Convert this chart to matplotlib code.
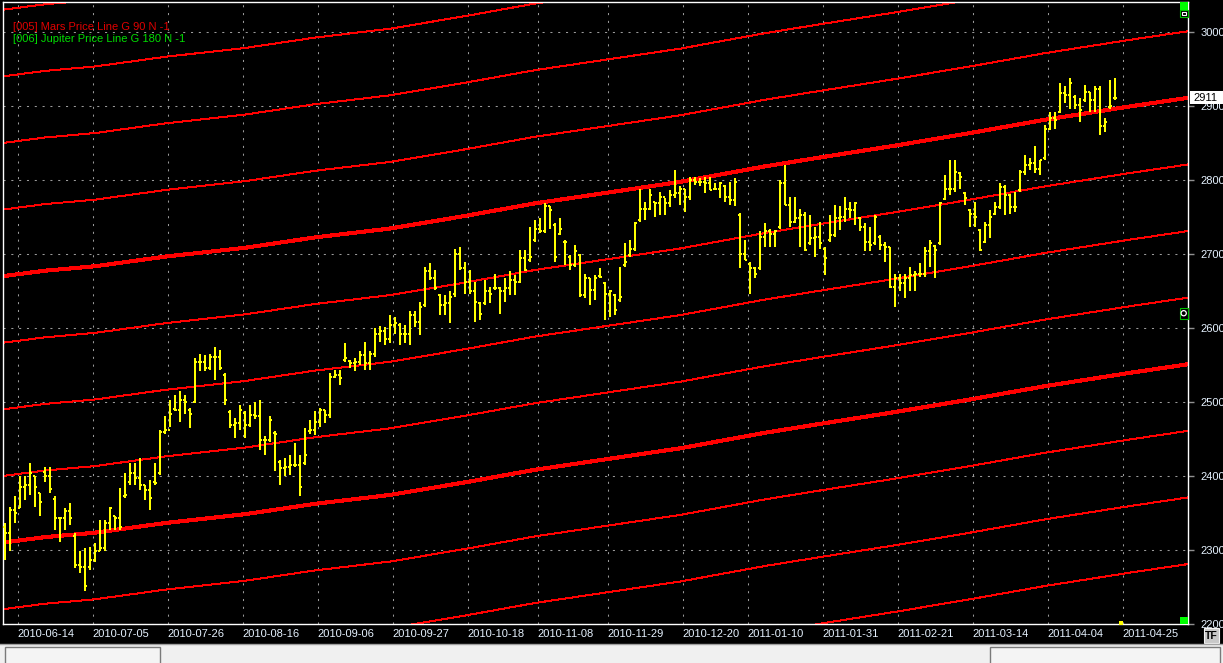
"""
Daily price bars with Mars / Jupiter price lines, black trading-terminal style
"""

import numpy as np
import matplotlib.pyplot as plt
from matplotlib.patches import Rectangle, Circle

plt.rcParams['font.family'] = ['Liberation Sans', 'DejaVu Sans']

# Daily bars, left to right (one bar per trading day)
opens = [
    2330, 2322, 2354, 2356, 2385, 2388, 2399, 2377, 2405, 2399,
    2368, 2343, 2343, 2352, 2318, 2280, 2277, 2276, 2286, 2298,
    2302, 2336, 2345, 2343, 2372, 2392, 2403, 2397, 2388, 2381,
    2392, 2403, 2459, 2462, 2490, 2489, 2502, 2489, 2500, 2554,
    2554, 2545, 2561, 2561, 2536, 2486, 2469, 2471, 2485, 2469,
    2482, 2480, 2448, 2448, 2458, 2419, 2410, 2412, 2415, 2415,
    2417, 2460, 2462, 2473, 2489, 2482, 2533, 2536, 2556, 2555,
    2552, 2554, 2563, 2552, 2565, 2592, 2595, 2585, 2604, 2604,
    2592, 2592, 2617, 2608, 2630, 2676, 2667, 2644, 2631, 2633,
    2645, 2700, 2680, 2662, 2649, 2633, 2633, 2649, 2653, 2653,
    2649, 2653, 2664, 2662, 2694, 2691, 2718, 2734, 2730, 2764,
    2739, 2727, 2716, 2696, 2685, 2698, 2644, 2667, 2651, 2670,
    2660, 2646, 2644, 2637, 2685, 2698, 2707, 2745, 2761, 2761,
    2770, 2768, 2777, 2768, 2779, 2782, 2788, 2777, 2800, 2797,
    2797, 2795, 2788, 2788, 2792, 2777, 2773, 2752, 2700, 2686,
    2680, 2680, 2723, 2730, 2727, 2736, 2795, 2766, 2743, 2748,
    2752, 2714, 2721, 2723, 2706, 2718, 2725, 2748, 2750, 2761,
    2759, 2748, 2736, 2716, 2715, 2722, 2712, 2709, 2655, 2667,
    2660, 2667, 2671, 2673, 2673, 2703, 2710, 2714, 2774, 2788,
    2788, 2809, 2782, 2759, 2754, 2732, 2716, 2739, 2754, 2763,
    2790, 2779, 2763, 2786, 2811, 2820, 2822, 2815, 2829, 2869,
    2883, 2892, 2917, 2914, 2912, 2901, 2907, 2919, 2908, 2923,
    2872, 2898, 2910,
]
highs = [
    2336, 2358, 2372, 2399, 2399, 2417, 2399, 2377, 2412, 2412,
    2372, 2343, 2356, 2363, 2322, 2298, 2302, 2304, 2309, 2340,
    2340, 2358, 2345, 2383, 2403, 2417, 2417, 2424, 2388, 2394,
    2417, 2462, 2480, 2502, 2509, 2514, 2509, 2491, 2559, 2565,
    2563, 2565, 2574, 2570, 2539, 2489, 2478, 2496, 2487, 2496,
    2500, 2502, 2453, 2480, 2460, 2421, 2424, 2428, 2444, 2428,
    2464, 2475, 2487, 2491, 2489, 2539, 2543, 2543, 2579, 2556,
    2559, 2568, 2581, 2568, 2600, 2602, 2601, 2617, 2615, 2606,
    2604, 2622, 2622, 2635, 2682, 2687, 2678, 2646, 2644, 2649,
    2707, 2709, 2689, 2678, 2662, 2635, 2664, 2655, 2673, 2655,
    2667, 2676, 2671, 2705, 2705, 2736, 2745, 2748, 2768, 2764,
    2741, 2748, 2718, 2698, 2712, 2700, 2673, 2667, 2671, 2680,
    2662, 2651, 2646, 2682, 2714, 2718, 2743, 2788, 2770, 2788,
    2770, 2784, 2775, 2786, 2813, 2791, 2788, 2804, 2804, 2802,
    2804, 2804, 2795, 2797, 2793, 2797, 2802, 2755, 2718, 2689,
    2682, 2730, 2741, 2734, 2732, 2800, 2820, 2777, 2777, 2761,
    2757, 2752, 2736, 2743, 2709, 2752, 2766, 2764, 2777, 2770,
    2770, 2750, 2741, 2736, 2752, 2725, 2716, 2709, 2673, 2673,
    2673, 2682, 2676, 2687, 2709, 2718, 2712, 2770, 2806, 2827,
    2827, 2811, 2784, 2761, 2770, 2734, 2743, 2759, 2770, 2795,
    2793, 2781, 2784, 2813, 2833, 2829, 2845, 2827, 2874, 2892,
    2892, 2930, 2926, 2937, 2914, 2910, 2928, 2919, 2926, 2926,
    2883, 2935, 2937,
]
lows = [
    2286, 2298, 2336, 2356, 2367, 2374, 2358, 2345, 2392, 2377,
    2327, 2311, 2327, 2334, 2275, 2268, 2244, 2273, 2284, 2298,
    2298, 2327, 2327, 2327, 2370, 2388, 2388, 2381, 2367, 2354,
    2388, 2401, 2457, 2466, 2487, 2473, 2484, 2464, 2498, 2541,
    2541, 2543, 2529, 2543, 2496, 2464, 2451, 2462, 2451, 2466,
    2476, 2435, 2428, 2446, 2406, 2388, 2399, 2401, 2412, 2372,
    2415, 2457, 2455, 2466, 2471, 2478, 2532, 2523, 2554, 2545,
    2541, 2550, 2543, 2543, 2561, 2581, 2577, 2579, 2592, 2577,
    2579, 2577, 2601, 2590, 2628, 2664, 2651, 2617, 2617, 2606,
    2642, 2678, 2646, 2646, 2608, 2610, 2631, 2633, 2651, 2619,
    2635, 2644, 2644, 2660, 2676, 2689, 2716, 2728, 2728, 2734,
    2689, 2725, 2685, 2678, 2682, 2642, 2640, 2631, 2637, 2667,
    2610, 2615, 2617, 2635, 2682, 2696, 2703, 2743, 2745, 2759,
    2750, 2752, 2752, 2763, 2775, 2766, 2757, 2773, 2793, 2791,
    2782, 2786, 2786, 2775, 2770, 2766, 2764, 2680, 2691, 2646,
    2667, 2678, 2709, 2709, 2709, 2734, 2766, 2736, 2741, 2709,
    2703, 2712, 2696, 2707, 2671, 2716, 2723, 2732, 2743, 2748,
    2739, 2730, 2703, 2703, 2712, 2705, 2689, 2653, 2628, 2649,
    2640, 2649, 2649, 2669, 2669, 2682, 2667, 2712, 2772, 2779,
    2784, 2788, 2766, 2736, 2736, 2703, 2714, 2721, 2752, 2761,
    2752, 2754, 2757, 2784, 2806, 2813, 2809, 2806, 2827, 2867,
    2869, 2890, 2903, 2896, 2896, 2878, 2905, 2892, 2892, 2860,
    2865, 2896, 2908,
]
closes = [
    2322, 2354, 2349, 2385, 2388, 2403, 2385, 2365, 2399, 2382,
    2343, 2343, 2352, 2343, 2280, 2277, 2251, 2286, 2298, 2302,
    2336, 2356, 2343, 2331, 2374, 2403, 2397, 2388, 2381, 2370,
    2390, 2459, 2462, 2484, 2489, 2502, 2500, 2484, 2554, 2554,
    2545, 2561, 2561, 2545, 2502, 2469, 2471, 2489, 2469, 2482,
    2480, 2448, 2448, 2475, 2457, 2410, 2412, 2415, 2415, 2385,
    2428, 2462, 2473, 2489, 2482, 2533, 2536, 2532, 2559, 2552,
    2554, 2563, 2552, 2565, 2592, 2595, 2585, 2604, 2606, 2592,
    2592, 2617, 2608, 2628, 2676, 2667, 2653, 2631, 2633, 2642,
    2700, 2680, 2662, 2649, 2635, 2619, 2649, 2646, 2653, 2649,
    2653, 2664, 2662, 2694, 2678, 2696, 2734, 2730, 2764, 2759,
    2696, 2734, 2716, 2685, 2703, 2644, 2667, 2651, 2667, 2669,
    2646, 2649, 2624, 2642, 2689, 2707, 2741, 2761, 2761, 2779,
    2768, 2777, 2768, 2779, 2782, 2788, 2777, 2800, 2797, 2797,
    2795, 2786, 2788, 2795, 2777, 2773, 2797, 2700, 2691, 2680,
    2673, 2723, 2730, 2727, 2730, 2795, 2766, 2743, 2748, 2752,
    2705, 2721, 2723, 2714, 2694, 2725, 2748, 2750, 2761, 2759,
    2768, 2736, 2716, 2712, 2750, 2712, 2709, 2655, 2667, 2660,
    2667, 2671, 2673, 2673, 2703, 2714, 2705, 2768, 2788, 2788,
    2811, 2804, 2775, 2754, 2750, 2705, 2739, 2750, 2763, 2790,
    2779, 2763, 2763, 2811, 2820, 2822, 2815, 2827, 2869, 2883,
    2881, 2917, 2914, 2930, 2901, 2894, 2919, 2908, 2923, 2872,
    2878, 2899, 2911,
]

# Price-line reference curve (bar index -> price)
line_bars = [0, 8, 18, 32, 48, 62, 77, 92, 106, 120, 135, 152, 163, 178, 193, 208, 225, 237]
line_vals = [2580, 2587, 2593, 2606, 2618, 2632, 2644, 2661, 2678, 2692, 2707, 2728, 2740,
             2756, 2773, 2791, 2809, 2821]
mars_offsets = [-630, -540, -450, -360, -180, -90, 0, 180, 270, 360, 450]
jupiter_offsets = [-270, 90]

# x axis: first bar of each labelled week
week_first_bar = [3, 18, 33, 48, 63, 78, 93, 107, 121, 136, 149, 164, 179, 194, 209, 224]
week_labels = ['2010-06-14', '2010-07-05', '2010-07-26', '2010-08-16', '2010-09-06',
               '2010-09-27', '2010-10-18', '2010-11-08', '2010-11-29', '2010-12-20',
               '2011-01-10', '2011-01-31', '2011-02-21', '2011-03-14', '2011-04-04',
               '2011-04-25']
price_ticks = [2200, 2300, 2400, 2500, 2600, 2700, 2800, 2900, 3000]

W, H = 1223, 663
fig = plt.figure(figsize=(W / 100, H / 100), dpi=100, facecolor='black')

# main chart area (pixel box 3..1188 x 2..624)
ax = fig.add_axes([3.3 / W, (H - 624) / H, (1188 - 3.3) / W, (624 - 1.7) / H])
ax.set_facecolor('black')
ax.set_xlim(-0.34, 236.6)
ax.set_ylim(2199.6, 3040.5)

grid_kw = dict(color='#9a9a9a', lw=0.75, dashes=(2.0, 5.5), zorder=1)
for p in price_ticks:
    ax.axhline(p, **grid_kw)
for b in week_first_bar:
    ax.axvline(b - 0.5, **grid_kw)

# price lines
lb = np.array(line_bars)
lv = np.array(line_vals)
for off in mars_offsets:
    ax.plot(lb, lv + off, color='#ff0000', lw=0.72, antialiased=False, zorder=2)
for off in jupiter_offsets:
    ax.plot(lb, lv + off, color='#ff0000', lw=2.2, antialiased=False, zorder=2)

# OHLC bars
x = np.arange(len(closes))
bar_kw = dict(color='#ffff00', antialiased=False, zorder=3)
ax.vlines(x, lows, highs, lw=1.1, **bar_kw)
ax.hlines(opens, x - 0.45, x, lw=1.1, **bar_kw)
ax.hlines(closes, x, x + 0.45, lw=1.1, **bar_kw)

for s in ax.spines.values():
    s.set_color('white')
    s.set_linewidth(1.0)

ax.yaxis.tick_right()
ax.set_yticks(price_ticks)
ax.set_yticklabels([str(p) for p in price_ticks])
ax.tick_params(axis='y', colors='#909090', length=4.5, width=1, pad=4.3,
               labelcolor='#e6f2ff', labelsize=8)
ax.set_xticks([b - 0.5 for b in week_first_bar])
ax.set_xticklabels(week_labels)
ax.tick_params(axis='x', length=0, pad=3.5, labelcolor='#e6f2ff', labelsize=8)
for t in ax.get_xticklabels():
    t.set_horizontalalignment('left')

# overlay in pixel units for the terminal chrome
ov = fig.add_axes([0, 0, 1, 1], zorder=10)
ov.set_xlim(0, W)
ov.set_ylim(H, 0)
ov.axis('off')
ov.patch.set_alpha(0)

ov.text(13, 27.5, '[005] Mars Price Line G 90 N -1', color='#e00000', fontsize=8, va='center')
ov.text(13, 38.5, '[006] Jupiter Price Line G 180 N -1', color='#00dd00', fontsize=8, va='center')

# last price box
last_y = 31.7 + (3000 - closes[-1]) * 0.74
ov.add_patch(Rectangle((1190, last_y - 6.5), 34, 13, facecolor='white', edgecolor='none'))
ov.text(1193, last_y, str(closes[-1]), color='black', fontsize=8, va='center', ha='left')

# small markers
ov.add_patch(Rectangle((1179.5, 2), 8.5, 7.5, facecolor='#00ff00', edgecolor='none'))
ov.add_patch(Rectangle((1179.5, 9.5), 8.5, 7.5, facecolor='black', edgecolor='#00c000', lw=0.8))
ov.add_patch(Rectangle((1181.5, 11.5), 4.5, 3.5, facecolor='none', edgecolor='white', lw=0.8))
ov.add_patch(Rectangle((1179.5, 307.5), 8.5, 11.5, facecolor='black', edgecolor='#00c000', lw=0.8))
ov.add_patch(Circle((1183.7, 313.2), 2.6, facecolor='none', edgecolor='white', lw=0.9))
ov.add_patch(Rectangle((1179.5, 616.5), 8.5, 7.5, facecolor='#00ff00', edgecolor='none'))
ov.add_patch(Rectangle((1119, 621), 3.5, 4, facecolor='#ffff00', edgecolor='none'))

# TF button
ov.add_patch(Rectangle((1204, 628), 15, 15, facecolor='#c8c8c8', edgecolor='#f4f4f4', lw=0.8))
ov.text(1211.5, 636, 'TF', color='black', fontsize=7.5, ha='center', va='center', fontweight='bold')

# bottom window strip
ov.add_patch(Rectangle((0, 643.5), W, 20, facecolor='#f0f0f0', edgecolor='none'))
ov.plot([0, W], [643.5, 643.5], color='#a0a0a0', lw=1)
ov.add_patch(Rectangle((4.5, 646.5), 155, 18, facecolor='#f4f4f4', edgecolor='#7a7a7a', lw=1))
ov.add_patch(Rectangle((990, 646.5), 230, 18, facecolor='#f4f4f4', edgecolor='#7a7a7a', lw=1))

fig.savefig('out.png', dpi=100, facecolor='black')
